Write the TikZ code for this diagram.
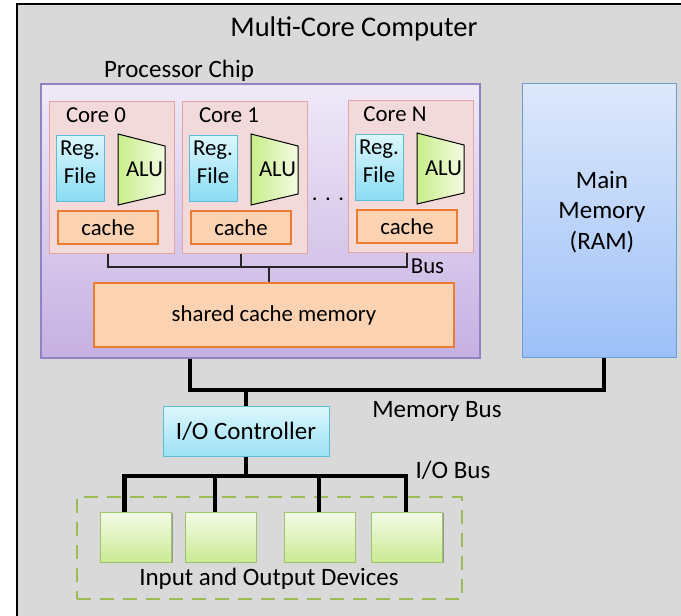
\documentclass[tikz,border=0pt]{standalone}
\usepackage{fontspec}
\setmainfont{Carlito}
\usetikzlibrary{shadows}

\definecolor{bggray}{HTML}{D9D9D9}
\definecolor{chiptop}{HTML}{EFEAF8}
\definecolor{chipbot}{HTML}{C6B0E2}
\definecolor{chipline}{HTML}{9182C2}
\definecolor{corefill}{HTML}{F2DADA}
\definecolor{coreline}{HTML}{E3A4A4}
\definecolor{regtop}{HTML}{DDF7FD}
\definecolor{regbot}{HTML}{8ADCF3}
\definecolor{regline}{HTML}{5DBDD6}
\definecolor{aluleft}{HTML}{C9EE8A}
\definecolor{aluright}{HTML}{F3FBE2}
\definecolor{cachefill}{HTML}{FBD3B3}
\definecolor{cacheline}{HTML}{EC7C30}
\definecolor{memtop}{HTML}{DDE8FB}
\definecolor{membot}{HTML}{9DC0F8}
\definecolor{memline}{HTML}{6C9CDA}
\definecolor{devtop}{HTML}{F4FBE6}
\definecolor{devbot}{HTML}{CBEA94}
\definecolor{devline}{HTML}{9CC46A}
\definecolor{groupline}{HTML}{9BBB59}

\tikzset{
  titletext/.style={font=\fontsize{28.5}{34}\selectfont},
  bigtext/.style={font=\fontsize{25}{30.5}\selectfont, align=center},
  smalltext/.style={font=\fontsize{22.8}{27.6}\selectfont, align=center},
  softshadow/.style={drop shadow={shadow xshift=1.3pt, shadow yshift=-1.3pt, opacity=0.3, fill=black}},
  box/.style={draw, inner sep=0pt, line width=1pt},
  chipbox/.style={box, draw=chipline, line width=1.3pt, top color=chiptop, bottom color=chipbot,
    minimum width=439pt, minimum height=274pt, softshadow},
  corebox/.style={box, draw=coreline, fill=corefill, minimum width=125pt, minimum height=152pt},
  regbox/.style={box, draw=regline, top color=regtop, bottom color=regbot,
    minimum width=48pt, minimum height=66pt, softshadow},
  alubox/.style={draw=black, line width=1pt, left color=aluleft, right color=aluright},
  cachebox/.style={box, draw=cacheline, line width=1.3pt, fill=cachefill, minimum width=100pt, minimum height=33pt},
  sharedbox/.style={cachebox, minimum width=360pt, minimum height=64pt},
  membox/.style={box, draw=memline, top color=memtop, bottom color=membot,
    minimum width=154pt, minimum height=274pt, softshadow},
  iobox/.style={box, draw=regline, top color=regtop, bottom color=regbot!85,
    minimum width=166pt, minimum height=50pt, softshadow},
  devbox/.style={box, draw=devline, top color=devtop, bottom color=devbot,
    minimum width=71pt, minimum height=50pt, softshadow},
  groupbox/.style={draw=groupline, line width=2.4pt, dash pattern=on 14pt off 9pt,
    minimum width=385pt, minimum height=102pt},
  thinbus/.style={draw=black!85, line width=1.4pt},
  thickbus/.style={draw=black, line width=4.5pt},
}

\begin{document}
\begin{tikzpicture}[x=1pt, y=-1pt]
\useasboundingbox (0,0) rectangle (681,616);
\fill[white] (0,0) rectangle (681,616);
% outer frame
\draw[line width=1.6pt, fill=bggray] (16.7,4) rectangle (700,640);
\node[titletext] (title) at (354,29) {Multi-Core Computer};

% processor chip
\node[bigtext] (chiplbl) at (179,71) {Processor Chip};
\node[chipbox] (chip) at (260.5,221) {};

% cores
\foreach \cx/\cy/\cn/\cid in {49/101/0/a, 182/101/1/b, 348/100/N/n}{
  \begin{scope}[shift={(\cx,\cy)}]
    \node[corebox, anchor=north west] (core\cid) at (0,0) {};
    \node[smalltext] (corelbl\cid) at (47,14) {Core \cn};
    \node[regbox] (reg\cid) at (31,67) {};
    \node[smalltext] (reglbl\cid) at (31,61) {Reg.\\File};
    \draw[alubox] (69,33) -- (116,45) -- (116,93) -- (69,104) -- cycle;
    \node[smalltext] (alu\cid) at (95.5,68) {ALU};
    \node[cachebox, smalltext] (cache\cid) at (59,126.5) {cache};
  \end{scope}
}
\node[smalltext] (dots) at (328,199) {.\,\,.\,\,.};

% shared cache and its bus
\node[sharedbox, smalltext] (shared) at (274,315) {shared cache memory};
\coordinate (busjoin) at (269,267);
\draw[thinbus] (cachea |- corea.south) -- (cachea |- busjoin) -- (cachen |- busjoin) -- (cachen |- coren.south);
\draw[thinbus] (cacheb |- coreb.south) -- (cacheb |- busjoin);
\draw[thinbus] (busjoin) -- (busjoin |- shared.north);
\node[smalltext] (buslbl) at (427.5,266) {Bus};

% main memory
\node[membox] (mem) at (599,220) {};
\node[bigtext] (memlbl) at (602,212) {Main\\Memory\\(RAM)};

% memory bus
\coordinate (mbl) at (190,390);
\coordinate (mbr) at (604,390);
\coordinate (mbio) at (246,390);
\draw[thickbus] (chip.south -| mbl) -- (mbl) -- (mbr) -- (mem.south -| mbr);
\node[iobox, bigtext] (io) at (246,431) {I/O Controller};
\draw[thickbus] (mbio) -- (io.north);
\node[bigtext] (membuslbl) at (437,411) {Memory Bus};

% I/O devices
\node[groupbox] (iogroup) at (269.5,548) {};
\node[devbox] (dev1) at (135.8,537) {};
\node[devbox] (dev2) at (220.5,537) {};
\node[devbox] (dev3) at (319.5,537) {};
\node[devbox] (dev4) at (407.2,537) {};
\node[bigtext] (iogrouplbl) at (269,579) {Input and Output Devices};

% I/O bus
\coordinate (iob) at (246,476);
\coordinate (d1) at (124.7,476);
\coordinate (d2) at (215,476);
\coordinate (d3) at (319,476);
\coordinate (d4) at (406,476);
\draw[thickbus] (io.south) -- (iob);
\draw[thickbus] (d1 |- dev1.north) -- (d1) -- (d4) -- (d4 |- dev4.north);
\draw[thickbus] (d2) -- (d2 |- dev2.north);
\draw[thickbus] (d3) -- (d3 |- dev3.north);
\node[bigtext] (iobuslbl) at (453,470) {I/O Bus};
\end{tikzpicture}
\end{document}
